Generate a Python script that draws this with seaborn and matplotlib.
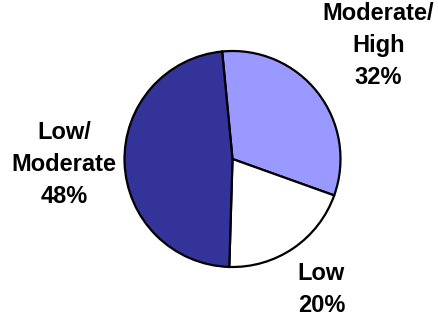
import numpy as np
import matplotlib
matplotlib.use("Agg")
import matplotlib.pyplot as plt
import seaborn as sns

labels = ["Moderate/\nHigh", "Low", "Low/\nModerate"]
shares = [32, 20, 48]
colors = ["#9999FF", "#FFFFFF", "#333399"]

sns.set_theme(style="white")
plt.rcParams["font.family"] = ["Liberation Sans", "DejaVu Sans"]

fig = plt.figure(figsize=(4.38, 3.15), dpi=100)
ax = fig.add_axes([0, 0, 1, 1])

wedges, _ = ax.pie(shares, colors=colors, startangle=95.5, counterclock=False,
                   center=(232.5, 156), radius=108,
                   wedgeprops=dict(edgecolor="black", linewidth=1.6))

# label distance (in radii) per slice, as in the original layout
dists = [1.71, 1.46, 1.56]
for w, lab, val, d in zip(wedges, labels, shares, dists):
    ang = np.deg2rad((w.theta1 + w.theta2) / 2)
    x = 232.5 + d * 108 * np.cos(ang)
    y = 156 + d * 108 * np.sin(ang)
    ax.text(x, y, f"{lab}\n{val}%", ha="center", va="center",
            fontsize=17, fontweight="bold", color="black", linespacing=1.5)

ax.set_xlim(0, 438)
ax.set_ylim(0, 315)
ax.set_aspect("equal")
ax.axis("off")

fig.savefig("out.png", dpi=100, facecolor="white")
